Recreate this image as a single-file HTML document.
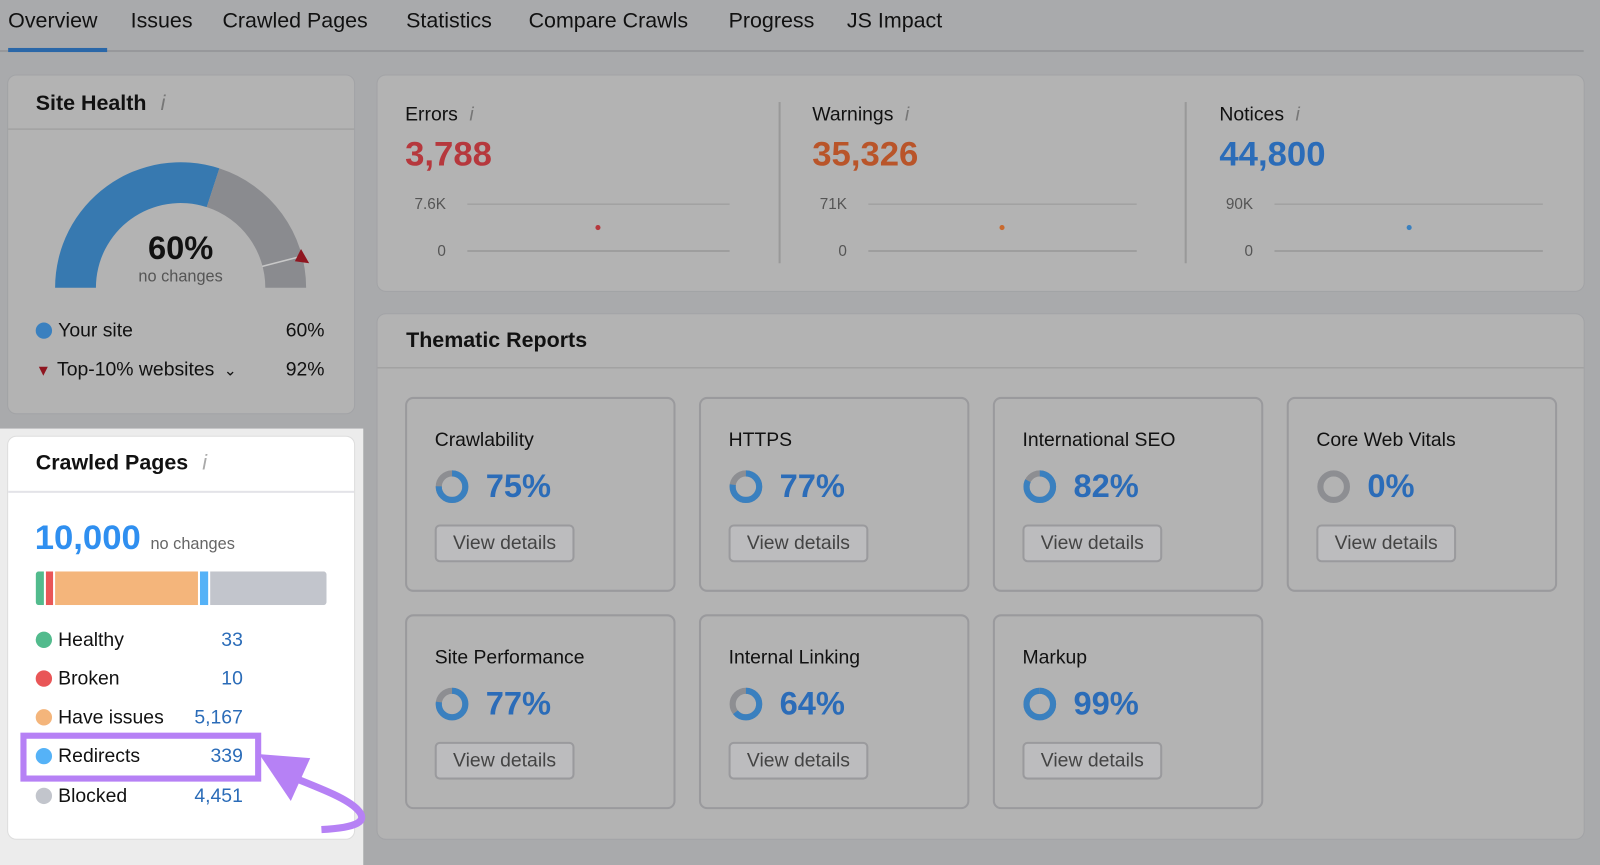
<!DOCTYPE html>
<html><head><meta charset="utf-8"><style>
*{box-sizing:border-box;margin:0;padding:0}
body{width:1600px;height:848px;background:#a9aaac;font-family:"Liberation Sans",sans-serif;position:relative;overflow:hidden;color:#111}
#w{position:absolute;left:0;top:0;width:1568px;height:831px;transform:scale(1.0204);transform-origin:0 0}
.a{position:absolute}
.card{position:absolute;background:#b3b3b3;border-radius:8px;box-shadow:0 0 0 1px #a2a3a6}
.tab{position:absolute;top:9px;font-size:21px;color:#111}
.sub{position:absolute;border:2px solid #9a9a9d;border-radius:8px;width:265px;height:191px}
.sub .t{position:absolute;left:27px;top:30px;font-size:19px}
.sub .p{position:absolute;left:77px;top:67px;font-size:32px;font-weight:bold;color:#2b6cb8}
.sub svg{position:absolute;left:27px;top:69px}
.sub .b{position:absolute;left:27px;top:123px;width:137px;height:37px;border:2px solid #9a9a9d;border-radius:5px;background:#bcbcbe;font-size:19px;color:#444;text-align:center;line-height:33px}
.leg{position:absolute;left:35px;font-size:19px}
.dot{display:inline-block;width:16px;height:16px;border-radius:50%;vertical-align:-2px;margin-right:6px}
.num{position:absolute;font-size:19px;color:#2b6cb8;text-align:right;width:80px}
</style></head><body><div id="w">
<div class="tab" style="left:8px">Overview</div>
<div class="tab" style="left:128px">Issues</div>
<div class="tab" style="left:218px">Crawled Pages</div>
<div class="tab" style="left:398px">Statistics</div>
<div class="tab" style="left:518px">Compare Crawls</div>
<div class="tab" style="left:714px">Progress</div>
<div class="tab" style="left:830px">JS Impact</div>
<div class="a" style="left:0;top:49px;width:1552px;height:2px;background:#97989b"></div>
<div class="a" style="left:8px;top:47px;width:97px;height:4px;background:#2a67a8"></div>

<div class="card" style="left:8px;top:74px;width:339px;height:331px">
<div class="a" style="left:27px;top:16px;font-size:21px;font-weight:bold">Site Health <span style="color:#777;font-style:italic;font-weight:normal;margin-left:8px">i</span></div>
<div class="a" style="left:0;top:52px;width:339px;height:1px;background:#999"></div>
</div>
<svg class="a" style="left:0;top:0" width="360" height="420">
<path d="M54 282 A123 123 0 0 1 215 165 L202.6 203 A83 83 0 0 0 94 282 Z" fill="#3779b0"/>
<path d="M215 165 A123 123 0 0 1 300 282 L260 282 A83 83 0 0 0 202.6 203 Z" fill="#8a8b8f"/>
<line x1="296" y1="251" x2="257" y2="261" stroke="#c8c8c8" stroke-width="1.5"/>
<polygon points="295,244 303,258 289,256" fill="#8f1620"/>
<text x="177" y="254" text-anchor="middle" font-size="32" font-weight="bold" fill="#111">60%</text>
<text x="177" y="276" text-anchor="middle" font-size="16" fill="#555">no changes</text>
</svg>
<div class="leg" style="top:314px"><span class="dot" style="background:#3a80bf"></span>Your site</div>
<div class="a" style="left:280px;top:314px;font-size:19px">60%</div>
<div class="leg" style="top:352px"><span style="color:#8f1620;font-size:15px;margin-right:6px">▼</span>Top-10% websites <span style="font-size:15px;margin-left:4px">⌄</span></div>
<div class="a" style="left:280px;top:352px;font-size:19px">92%</div>

<div class="a" style="left:0;top:420px;width:356px;height:428px;background:#ececec"></div>
<div class="a" style="left:8px;top:428px;width:339px;height:394px;background:#fff;border-radius:8px;box-shadow:0 0 0 1px #ddd">
<div class="a" style="left:27px;top:14px;font-size:21px;font-weight:bold">Crawled Pages <span style="color:#aaa;font-style:italic;font-weight:normal;margin-left:8px">i</span></div>
<div class="a" style="left:0;top:53px;width:339px;height:2px;background:#e3e3e8"></div>
<div class="a" style="left:26px;top:80px;font-size:34px;font-weight:bold;color:#2f8ff0">10,000 <span style="font-size:16px;font-weight:normal;color:#666">no changes</span></div>
<div class="a" style="left:27px;top:132px;width:285px;height:33px;border-radius:3px;overflow:hidden;display:flex">
<div style="width:8px;background:#52bb8d"></div><div style="width:2px"></div><div style="width:7px;background:#e95657"></div><div style="width:2px"></div><div style="width:140px;background:#f4b57b"></div><div style="width:2px"></div><div style="width:8px;background:#55b2f7"></div><div style="width:2px"></div><div style="flex:1;background:#c2c5cc"></div></div>
</div>
<div class="leg" style="top:617px"><span class="dot" style="background:#52bb8d"></span>Healthy</div><div class="num" style="left:158px;top:617px">33</div>
<div class="leg" style="top:655px"><span class="dot" style="background:#e95657"></span>Broken</div><div class="num" style="left:158px;top:655px">10</div>
<div class="leg" style="top:693px"><span class="dot" style="background:#f4b57b"></span>Have issues</div><div class="num" style="left:158px;top:693px">5,167</div>
<div class="a" style="left:20px;top:718px;width:236px;height:48px;border:6px solid #b681f5"></div>
<div class="leg" style="top:731px"><span class="dot" style="background:#55b2f7"></span>Redirects</div><div class="num" style="left:158px;top:731px">339</div>
<div class="leg" style="top:770px"><span class="dot" style="background:#c2c5cc"></span>Blocked</div><div class="num" style="left:158px;top:770px">4,451</div>
<svg class="a" style="left:250px;top:735px" width="120" height="90">
<path d="M65 78 C100 76 112 70 100 58 C90 48 70 40 40 28" stroke="#b681f5" stroke-width="7" fill="none"/>
<polygon points="4,4 54,8 35,50" fill="#b681f5"/>
</svg>

<div class="card" style="left:370px;top:74px;width:1182px;height:211px"></div>
<div class="a" style="left:763px;top:100px;width:2px;height:158px;background:#999"></div>
<div class="a" style="left:1161px;top:100px;width:2px;height:158px;background:#999"></div>
<div class="a" style="left:397px;top:102px;font-size:19px">Errors <i style="color:#777;margin-left:6px">i</i></div>
<div class="a" style="left:397px;top:132px;font-size:34px;font-weight:bold;color:#b6383d">3,788</div>
<div class="a" style="left:796px;top:102px;font-size:19px">Warnings <i style="color:#777;margin-left:6px">i</i></div>
<div class="a" style="left:796px;top:132px;font-size:34px;font-weight:bold;color:#b9552a">35,326</div>
<div class="a" style="left:1195px;top:102px;font-size:19px">Notices <i style="color:#777;margin-left:6px">i</i></div>
<div class="a" style="left:1195px;top:132px;font-size:34px;font-weight:bold;color:#2b6cb8">44,800</div>
<svg class="a" style="left:0;top:180px" width="1600" height="80" font-size="15" fill="#555">
<text x="437" y="25" text-anchor="end">7.6K</text><text x="437" y="71" text-anchor="end">0</text>
<line x1="458" y1="20" x2="715" y2="20" stroke="#999"/><line x1="458" y1="66" x2="715" y2="66" stroke="#888"/>
<circle cx="586" cy="43" r="2.5" fill="#b6383d"/>
<text x="830" y="25" text-anchor="end">71K</text><text x="830" y="71" text-anchor="end">0</text>
<line x1="851" y1="20" x2="1114" y2="20" stroke="#999"/><line x1="851" y1="66" x2="1114" y2="66" stroke="#888"/>
<circle cx="982" cy="43" r="2.5" fill="#c96a2f"/>
<text x="1228" y="25" text-anchor="end">90K</text><text x="1228" y="71" text-anchor="end">0</text>
<line x1="1249" y1="20" x2="1512" y2="20" stroke="#999"/><line x1="1249" y1="66" x2="1512" y2="66" stroke="#888"/>
<circle cx="1381" cy="43" r="2.5" fill="#3a80bf"/>
</svg>

<div class="card" style="left:370px;top:308px;width:1182px;height:514px">
<div class="a" style="left:28px;top:14px;font-size:21px;font-weight:bold">Thematic Reports</div>
<div class="a" style="left:0;top:52px;width:1182px;height:1px;background:#999"></div>
</div>

<div class="sub" style="left:397px;top:389px"><div class="t">Crawlability</div>
<svg width="34" height="34"><circle cx="17" cy="17" r="13" fill="none" stroke="#8d8e92" stroke-width="6"/><circle cx="17" cy="17" r="13" fill="none" stroke="#3a80bf" stroke-width="6" stroke-dasharray="61.3 82" transform="rotate(-90 17 17)"/></svg>
<div class="p">75%</div><div class="b">View details</div></div>
<div class="sub" style="left:685px;top:389px"><div class="t">HTTPS</div>
<svg width="34" height="34"><circle cx="17" cy="17" r="13" fill="none" stroke="#8d8e92" stroke-width="6"/><circle cx="17" cy="17" r="13" fill="none" stroke="#3a80bf" stroke-width="6" stroke-dasharray="62.9 82" transform="rotate(-90 17 17)"/></svg>
<div class="p">77%</div><div class="b">View details</div></div>
<div class="sub" style="left:973px;top:389px"><div class="t">International SEO</div>
<svg width="34" height="34"><circle cx="17" cy="17" r="13" fill="none" stroke="#8d8e92" stroke-width="6"/><circle cx="17" cy="17" r="13" fill="none" stroke="#3a80bf" stroke-width="6" stroke-dasharray="67 82" transform="rotate(-90 17 17)"/></svg>
<div class="p">82%</div><div class="b">View details</div></div>
<div class="sub" style="left:1261px;top:389px"><div class="t">Core Web Vitals</div>
<svg width="34" height="34"><circle cx="17" cy="17" r="13" fill="none" stroke="#8d8e92" stroke-width="6"/></svg>
<div class="p">0%</div><div class="b">View details</div></div>
<div class="sub" style="left:397px;top:602px"><div class="t">Site Performance</div>
<svg width="34" height="34"><circle cx="17" cy="17" r="13" fill="none" stroke="#8d8e92" stroke-width="6"/><circle cx="17" cy="17" r="13" fill="none" stroke="#3a80bf" stroke-width="6" stroke-dasharray="62.9 82" transform="rotate(-90 17 17)"/></svg>
<div class="p">77%</div><div class="b">View details</div></div>
<div class="sub" style="left:685px;top:602px"><div class="t">Internal Linking</div>
<svg width="34" height="34"><circle cx="17" cy="17" r="13" fill="none" stroke="#8d8e92" stroke-width="6"/><circle cx="17" cy="17" r="13" fill="none" stroke="#3a80bf" stroke-width="6" stroke-dasharray="52.3 82" transform="rotate(-90 17 17)"/></svg>
<div class="p">64%</div><div class="b">View details</div></div>
<div class="sub" style="left:973px;top:602px"><div class="t">Markup</div>
<svg width="34" height="34"><circle cx="17" cy="17" r="13" fill="none" stroke="#8d8e92" stroke-width="6"/><circle cx="17" cy="17" r="13" fill="none" stroke="#3a80bf" stroke-width="6" stroke-dasharray="80.9 82" transform="rotate(-90 17 17)"/></svg>
<div class="p">99%</div><div class="b">View details</div></div>
</div></body></html>
